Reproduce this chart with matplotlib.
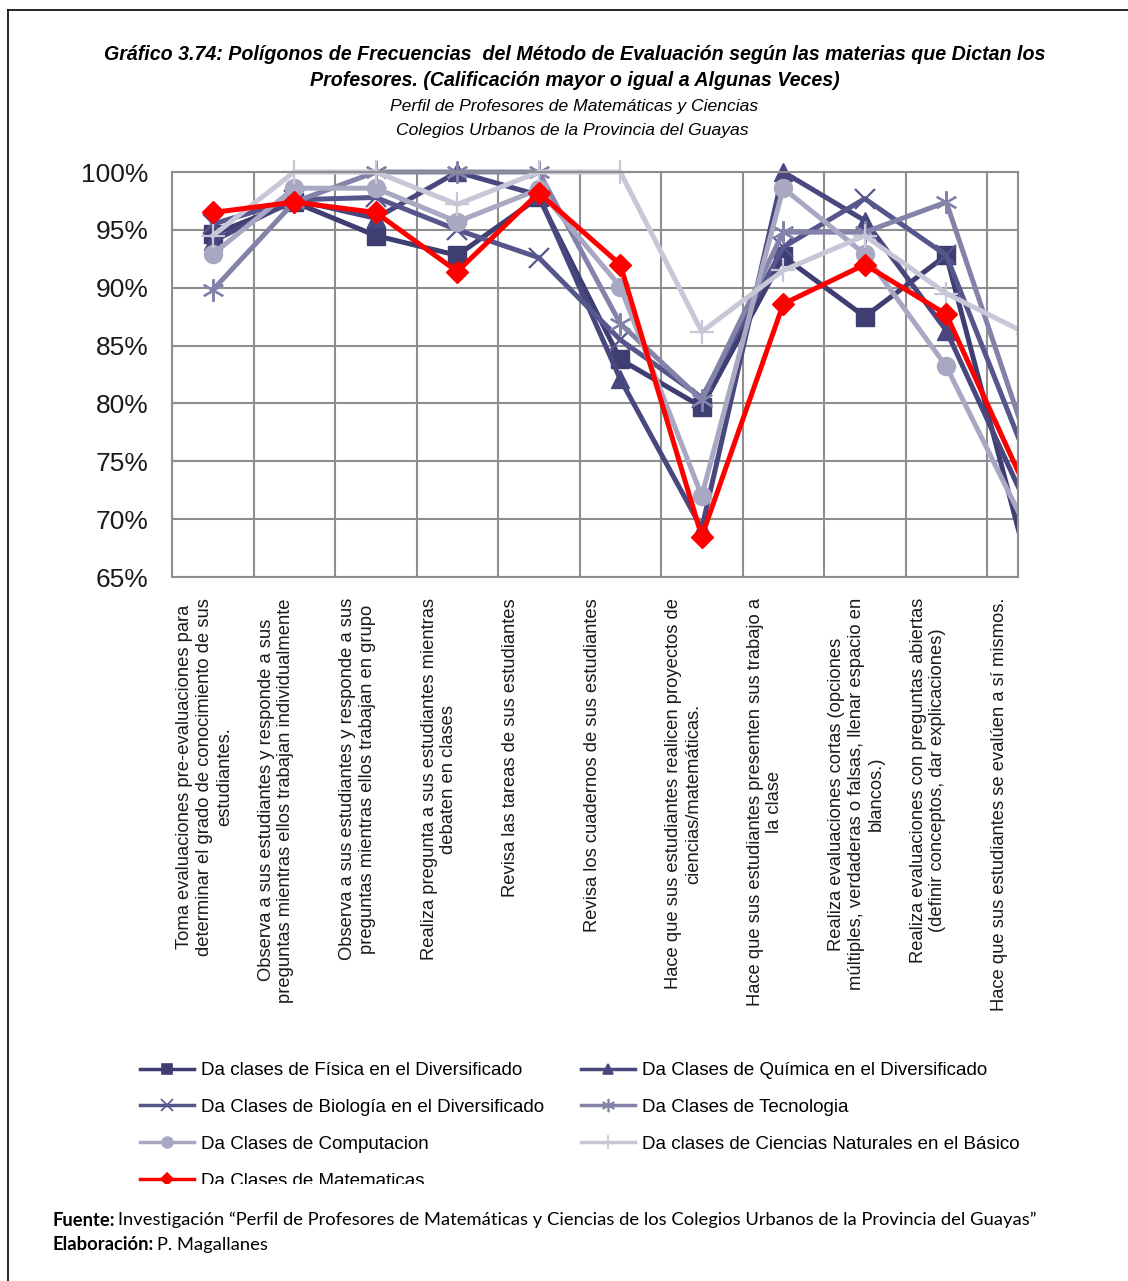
import matplotlib.pyplot as plt
import numpy as np
from matplotlib.lines import Line2D
from matplotlib.patches import Rectangle

# categorias del eje x
categorias = [
    "Toma evaluaciones pre-evaluaciones para\ndeterminar el grado de conocimiento de sus\nestudiantes.",
    "Observa a sus estudiantes y responde a sus\npreguntas mientras ellos trabajan individualmente",
    "Observa a sus estudiantes y responde a sus\npreguntas mientras ellos trabajan en grupo",
    "Realiza pregunta a sus estudiantes mientras\ndebaten en clases",
    "Revisa las tareas de sus estudiantes",
    "Revisa los cuadernos de sus estudiantes",
    "Hace que sus estudiantes realicen proyectos de\nciencias/matemáticas.",
    "Hace que sus estudiantes presenten sus trabajo a\nla clase",
    "Realiza evaluaciones cortas (opciones\nmúltiples, verdaderas o falsas, llenar espacio en\nblancos.)",
    "Realiza evaluaciones con preguntas abiertas\n(definir conceptos, dar explicaciones)",
    "Hace que sus estudiantes se evalúen a sí mismos.",
]

# porcentajes por materia
fisica      = [94.6, 97.4, 94.5, 92.8, 97.8, 83.8, 79.7, 92.7, 87.5, 92.8, 66.0]
quimica     = [94.0, 97.6, 96.0, 100.0, 98.0, 82.1, 69.2, 100.0, 95.8, 86.3, 71.0]
biologia    = [95.5, 97.6, 97.8, 95.0, 92.6, 85.5, 80.5, 93.5, 97.7, 92.8, 75.0]
tecnologia  = [89.8, 97.4, 100.0, 100.0, 100.0, 86.9, 80.3, 94.8, 94.8, 97.4, 76.5]
computacion = [92.9, 98.6, 98.6, 95.7, 98.5, 90.1, 72.0, 98.6, 92.9, 83.2, 69.0]
ciencias    = [94.5, 100.0, 100.0, 97.2, 100.0, 100.0, 86.2, 91.5, 94.5, 89.5, 86.0]
matematicas = [96.5, 97.4, 96.5, 91.4, 98.2, 92.0, 68.5, 88.6, 92.0, 87.7, 72.3]

nombres = [
    "Da clases de Física en el Diversificado",
    "Da Clases de Química en el Diversificado",
    "Da Clases de Biología en el Diversificado",
    "Da Clases de Tecnologia",
    "Da Clases de Computacion",
    "Da clases de Ciencias Naturales en el Básico",
    "Da Clases de Matematicas",
]
series = [fisica, quimica, biologia, tecnologia, computacion, ciencias, matematicas]

# estilo de cada serie: color, marcador, tamano
estilos = [
    ("#3e3e72", "s", 13),
    ("#48487f", "^", 13),
    ("#55568c", "x", 14),
    ("#8383a9", (6, 2, 0), 16),
    ("#a8a8c2", "o", 13),
    ("#c7c7d7", "+", 17),
    ("#ff0000", "D", 11),
]

W, H = 1128, 1281
def fx(px):
    return px / W
def fy(py):
    return 1 - py / H

arial = ["Liberation Sans", "DejaVu Sans"]
calibri = ["Lato", "DejaVu Sans"]

fig = plt.figure(figsize=(11.28, 12.81), dpi=100)
ax = fig.add_axes([fx(172), fy(577), fx(1018) - fx(172), fy(172) - fy(577)])

x = np.arange(len(categorias))
# recorte solo por la derecha (como en la imagen original)
clip = Rectangle((-0.5, -0.5), 1.5, 2.0, transform=ax.transAxes)

for vals, (col, mk, ms) in zip(series, estilos):
    filled = mk in ("s", "^", "o", "D")
    ln, = ax.plot(x, vals, color=col, lw=3.6, marker=mk, markersize=ms,
                  markerfacecolor=col, markeredgecolor=col,
                  markeredgewidth=1.0 if filled else 1.6)
    ln.set_clip_path(clip)

ax.set_ylim(65, 100)
ax.set_xlim(-0.5, 9.88)
ax.set_yticks(np.arange(65, 101, 5))
ax.set_yticklabels([f"{v}%" for v in range(65, 101, 5)], fontsize=19,
                   family=arial, color="#1a1a1a")
ax.set_xticks(np.arange(-0.5, 10, 1))
ax.set_xticklabels([])
ax.tick_params(length=0, pad=17)
ax.grid(True, color="#8e8e8e", lw=1.5)
ax.set_axisbelow(True)
for s in ax.spines.values():
    s.set_color("#8e8e8e")
    s.set_linewidth(1.5)

for i, lab in enumerate(categorias):
    ax.text(i - 0.45, -0.052, lab, transform=ax.get_xaxis_transform(),
            rotation=90, ha="left", va="top", multialignment="center",
            fontsize=13.2, linespacing=1.22, family=arial, color="#1a1a1a")

# titulos
fig.text(fx(575), fy(54), "Gráfico 3.74: Polígonos de Frecuencias  del Método de Evaluación según las materias que Dictan los",
         ha="center", va="center", fontsize=14.1, fontweight="bold", fontstyle="italic", family=arial)
fig.text(fx(575), fy(81), "Profesores. (Calificación mayor o igual a Algunas Veces)",
         ha="center", va="center", fontsize=14.1, fontweight="bold", fontstyle="italic", family=arial)
fig.text(fx(574), fy(106), "Perfil de Profesores de Matemáticas y Ciencias",
         ha="center", va="center", fontsize=12.6, fontstyle="italic", family=arial)
fig.text(fx(572), fy(131), "Colegios Urbanos de la Provincia del Guayas",
         ha="center", va="center", fontsize=12.6, fontstyle="italic", family=arial)

# leyenda en dos columnas
def handle(i):
    col, mk, ms = estilos[i]
    return Line2D([], [], color=col, lw=2.5, marker=mk, markersize=ms * 0.6,
                  markerfacecolor=col, markeredgecolor=col, markeredgewidth=1.2)

kw = dict(loc="upper left", frameon=False, borderpad=0, borderaxespad=0,
          handlelength=2.9, handletextpad=0.35, labelspacing=1.05,
          prop={"family": arial, "size": 13.5})
izq = [0, 2, 4, 6]
der = [1, 3, 5]
fig.legend([handle(i) for i in izq], [nombres[i] for i in izq],
           bbox_to_anchor=(fx(140), fy(1062)), **kw)
fig.legend([handle(i) for i in der], [nombres[i] for i in der],
           bbox_to_anchor=(fx(581), fy(1062)), **kw)

# la ultima fila de la leyenda queda cortada en el original
fig.add_artist(Rectangle((fx(100), fy(1206)), fx(1000), fy(1184) - fy(1206),
                         transform=fig.transFigure, facecolor="white",
                         edgecolor="none", zorder=10))

# fuente
fig.canvas.draw()
r = fig.canvas.get_renderer()
t1 = fig.text(fx(52), fy(1220), "Fuente:", fontsize=13.2, fontweight="bold",
              va="center", family=calibri)
w1 = t1.get_window_extent(r).width
fig.text(fx(52 + w1 + 4), fy(1220),
         "Investigación “Perfil de Profesores de Matemáticas y Ciencias de los Colegios Urbanos de la Provincia del Guayas”",
         fontsize=13.2, va="center", family=calibri)
t2 = fig.text(fx(52), fy(1245), "Elaboración:", fontsize=13.2, fontweight="bold",
              va="center", family=calibri)
w2 = t2.get_window_extent(r).width
fig.text(fx(52 + w2 + 4), fy(1245), "P. Magallanes", fontsize=13.2, va="center",
         family=calibri)

# marco
fig.add_artist(Line2D([fx(8), fx(8)], [fy(10), 0], color="black", lw=1.2))
fig.add_artist(Line2D([fx(8), 1], [fy(10), fy(10)], color="black", lw=1.2))

fig.savefig("out.png", dpi=100)
